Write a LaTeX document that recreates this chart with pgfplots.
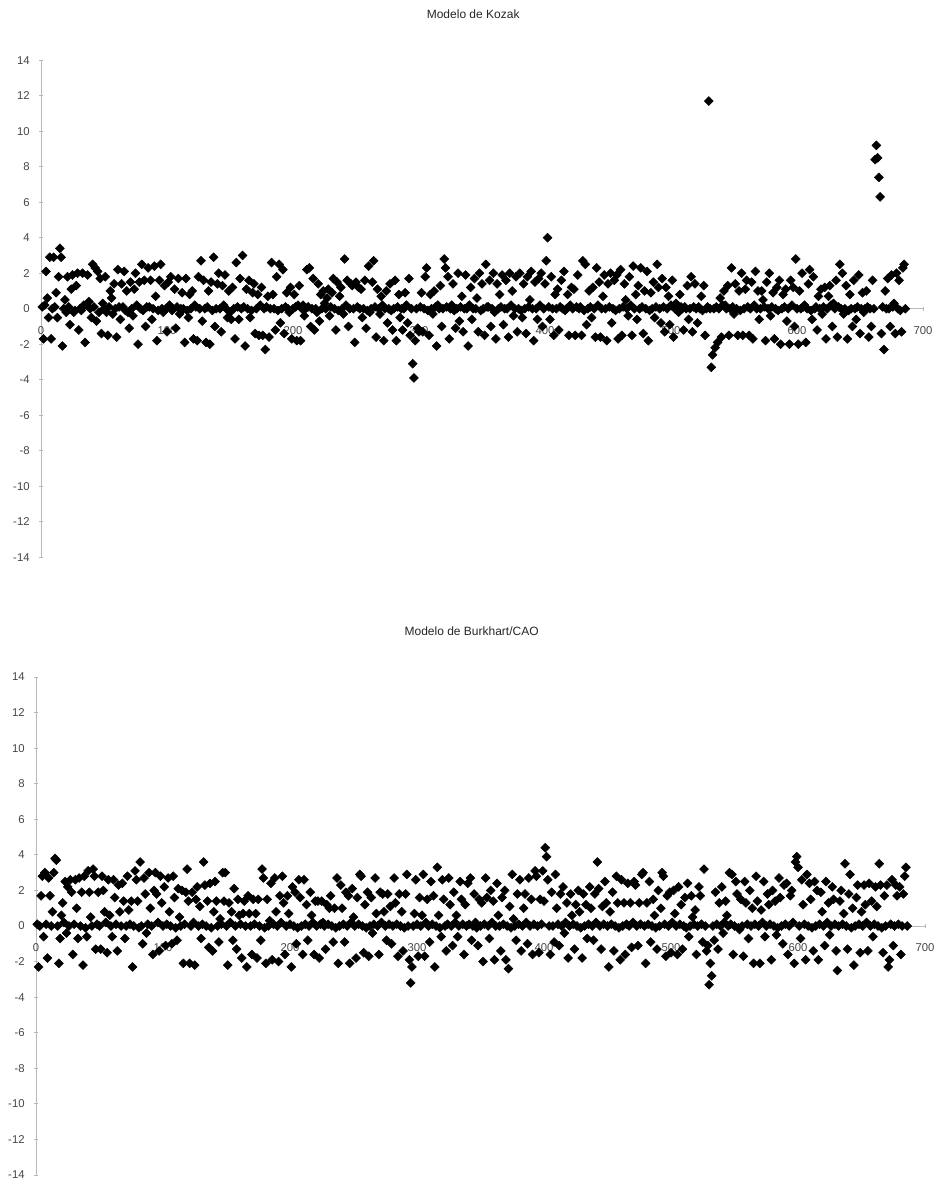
\documentclass[border=0pt]{standalone}
\usepackage{fontspec}
\setmainfont{Liberation Sans}
\usepackage{pgfplots}
\usepackage{pgfplotstable}
\pgfplotsset{compat=1.18}
\definecolor{axgray}{RGB}{185,185,185}
\definecolor{lblgray}{RGB}{70,70,70}

\pgfplotstableread[row sep=\\, header=false]{
0.1\\ -1.7\\ 0.2\\ 2.1\\ 0.6\\ -0.5\\ 2.9\\ -1.7\\ 0.0\\ 2.9\\ 0.1\\ 0.9\\ -0.5\\ 1.8\\
3.4\\ 2.9\\ -2.1\\ 0.0\\ 0.5\\ -0.2\\ 1.8\\ 0.1\\ -0.9\\ 1.1\\ 1.9\\ -0.2\\ -0.1\\ 1.3\\
2.0\\ -1.2\\ 0.0\\ -0.1\\ 2.0\\ 0.2\\ -1.9\\ 0.2\\ 1.9\\ 0.4\\ 0.0\\ -0.5\\ 2.5\\ 0.1\\
2.3\\ -0.7\\ 2.1\\ -0.2\\ 1.7\\ -1.4\\ 0.3\\ 0.0\\ 1.8\\ -0.2\\ -1.5\\ 0.1\\ 1.0\\ 0.6\\
-0.3\\ 1.4\\ 0.0\\ -1.6\\ 2.2\\ 0.1\\ -0.6\\ 1.4\\ 0.1\\ 2.1\\ -0.1\\ 1.0\\ -0.2\\ -1.1\\
1.5\\ 0.0\\ -0.4\\ 1.1\\ 2.0\\ 0.2\\ -2.0\\ 1.5\\ 0.0\\ 2.5\\ -0.1\\ 1.6\\ -1.0\\ 0.1\\
2.3\\ 0.1\\ 1.6\\ -0.6\\ 0.0\\ 2.4\\ 0.7\\ -1.8\\ -0.1\\ 1.6\\ 2.5\\ 0.0\\ -0.2\\ 1.3\\
0.0\\ -1.3\\ 1.5\\ 0.2\\ 1.8\\ -0.1\\ 0.0\\ 1.1\\ -1.1\\ 0.1\\ 1.7\\ -0.3\\ 0.0\\ 0.9\\
0.0\\ -1.9\\ 1.7\\ -0.1\\ -0.5\\ 0.8\\ 0.0\\ 1.0\\ -1.7\\ 0.2\\ 0.1\\ -1.8\\ 1.8\\ 0.0\\
2.7\\ -0.7\\ 1.6\\ 0.0\\ -1.9\\ 0.1\\ 1.0\\ -2.0\\ 1.5\\ -0.1\\ 2.9\\ -1.0\\ 0.0\\ 1.4\\
2.0\\ 0.0\\ -1.3\\ 1.3\\ 0.2\\ 1.9\\ 0.0\\ -0.5\\ 1.0\\ -0.2\\ -0.6\\ 1.2\\ 0.0\\ -1.7\\
2.6\\ 0.1\\ -0.6\\ 1.7\\ 0.0\\ 3.0\\ 0.1\\ -2.1\\ 1.1\\ 0.0\\ 1.6\\ -0.5\\ -0.1\\ 0.9\\
1.4\\ -1.4\\ 0.0\\ 0.8\\ -1.5\\ 0.2\\ 1.2\\ -1.5\\ 0.0\\ -2.3\\ 0.1\\ 0.7\\ -1.6\\ 0.0\\
2.6\\ 0.8\\ 0.0\\ -1.2\\ 1.8\\ -0.1\\ 2.5\\ -0.8\\ 0.0\\ 2.2\\ -1.4\\ 0.1\\ 0.9\\ 0.0\\
-0.2\\ 1.2\\ -1.7\\ 0.0\\ 0.8\\ 0.1\\ -1.8\\ 0.2\\ 1.3\\ -1.8\\ 0.0\\ 0.2\\ -0.4\\ 0.0\\
2.2\\ 0.1\\ 2.3\\ -1.0\\ 0.0\\ 1.7\\ -1.2\\ 0.0\\ -0.2\\ 1.4\\ -0.7\\ 0.8\\ 0.0\\ 1.0\\
0.3\\ 0.0\\ 0.6\\ 1.1\\ -0.4\\ 0.1\\ 0.9\\ 1.7\\ 0.0\\ -1.2\\ 1.5\\ -0.1\\ 0.7\\ 1.2\\
0.0\\ -0.3\\ 2.8\\ 0.2\\ 1.6\\ -1.0\\ 0.0\\ 1.4\\ 1.3\\ 0.0\\ -1.9\\ 1.5\\ 0.1\\ 1.2\\
0.0\\ 1.1\\ -0.5\\ 0.0\\ 1.6\\ -1.1\\ -0.1\\ 2.4\\ -0.2\\ 0.0\\ 1.5\\ 2.7\\ 0.1\\ -1.6\\
1.1\\ 0.0\\ -0.3\\ 0.7\\ 0.2\\ -1.8\\ 0.0\\ 1.0\\ -0.8\\ 0.0\\ 1.4\\ -0.1\\ -1.2\\ 0.0\\
1.6\\ -1.8\\ 0.1\\ 0.8\\ -0.5\\ 0.0\\ -1.2\\ 0.0\\ 0.9\\ 0.2\\ -0.8\\ 1.7\\ -1.5\\ 0.0\\
-3.1\\ -3.9\\ -1.8\\ 0.0\\ -1.1\\ -1.3\\ 0.1\\ 0.9\\ -1.3\\ 0.0\\ 1.8\\ 2.3\\ -0.1\\ -1.5\\
0.8\\ 0.0\\ -0.3\\ 1.0\\ 0.1\\ -2.1\\ 0.2\\ 0.0\\ 1.3\\ -1.0\\ 0.0\\ 2.8\\ 2.3\\ 0.1\\
1.8\\ -1.7\\ 0.0\\ 0.2\\ 1.4\\ -0.1\\ -1.1\\ 0.0\\ 2.0\\ -0.7\\ 0.1\\ 0.7\\ -1.3\\ 0.0\\
1.9\\ 0.0\\ -2.1\\ 0.2\\ 1.2\\ -0.6\\ 0.0\\ 1.7\\ 0.0\\ 0.6\\ -1.3\\ 2.0\\ -0.1\\ 1.4\\
0.0\\ -1.5\\ 2.5\\ 0.1\\ 0.1\\ 1.6\\ -1.0\\ 0.0\\ 2.0\\ -0.2\\ -1.7\\ 1.4\\ 0.0\\ 0.8\\
0.1\\ 1.9\\ -0.9\\ 0.0\\ 1.6\\ 0.0\\ -1.6\\ 2.0\\ 0.2\\ 1.0\\ -0.4\\ 0.0\\ 1.8\\ -1.3\\
0.0\\ 2.0\\ -0.1\\ -0.5\\ 1.4\\ 0.0\\ -1.4\\ 1.8\\ 0.1\\ 0.5\\ 2.1\\ 0.0\\ -1.8\\ 1.5\\
0.0\\ -0.6\\ 1.7\\ 0.2\\ 2.0\\ -1.0\\ 0.0\\ 1.4\\ 2.7\\ 4.0\\ 0.1\\ -0.6\\ 1.8\\ 0.0\\
-1.5\\ 0.8\\ 0.0\\ 1.1\\ -1.2\\ 0.1\\ 1.6\\ 0.0\\ 2.1\\ -0.1\\ 0.0\\ 0.8\\ -1.5\\ 0.2\\
1.2\\ 0.0\\ 1.1\\ -1.5\\ 0.1\\ 1.9\\ 0.0\\ 0.1\\ -1.5\\ 2.7\\ -0.1\\ 2.5\\ -0.9\\ 0.0\\
1.0\\ 0.1\\ -0.5\\ 1.2\\ 0.0\\ -1.6\\ 2.3\\ 0.2\\ 1.5\\ -1.6\\ 0.0\\ 0.7\\ 1.9\\ 0.0\\
-1.8\\ 1.4\\ 0.1\\ 2.0\\ -0.8\\ 0.0\\ 1.6\\ -0.1\\ 1.9\\ -1.7\\ 0.0\\ 2.2\\ -1.5\\ 0.1\\
1.4\\ 0.5\\ 0.0\\ -0.4\\ 1.8\\ 0.2\\ -1.5\\ 2.4\\ 0.0\\ 0.8\\ -0.6\\ 1.3\\ 0.0\\ 2.3\\
0.1\\ -1.4\\ 1.0\\ 0.0\\ 2.1\\ -1.8\\ -0.1\\ 0.9\\ 0.0\\ 1.5\\ -0.5\\ 0.1\\ 2.5\\ 1.2\\
0.0\\ -0.8\\ 1.7\\ 0.1\\ -1.3\\ 1.2\\ 0.0\\ 0.7\\ -0.9\\ 0.2\\ 1.6\\ -1.6\\ 0.0\\ 0.3\\
0.0\\ -0.2\\ 0.8\\ 0.1\\ 0.0\\ -1.2\\ 0.1\\ 0.0\\ 1.3\\ -0.6\\ 0.0\\ 1.8\\ -1.3\\ 0.1\\
1.4\\ 0.0\\ -0.8\\ 0.1\\ 0.0\\ 0.7\\ -0.1\\ 1.3\\ -1.5\\ 0.0\\ 0.1\\ 11.7\\ 0.0\\ -3.3\\
-2.6\\ 0.0\\ -2.2\\ 0.1\\ -1.9\\ 0.0\\ 0.6\\ -1.6\\ 0.2\\ 1.0\\ 0.2\\ 0.0\\ 1.3\\ -1.5\\
0.0\\ 2.3\\ 0.1\\ -0.3\\ 1.4\\ 0.0\\ -1.5\\ 1.0\\ -0.1\\ 2.0\\ -1.5\\ 0.0\\ 1.1\\ 1.6\\
0.1\\ -1.5\\ 0.0\\ 1.5\\ -1.7\\ 0.2\\ 2.1\\ 0.0\\ 1.0\\ -0.6\\ 0.0\\ 1.0\\ 0.5\\ 0.1\\
-1.8\\ 1.5\\ 0.0\\ 2.0\\ -0.4\\ 0.1\\ 0.9\\ -1.7\\ 0.0\\ 1.2\\ -0.1\\ 1.6\\ -2.0\\ 0.0\\
0.8\\ 0.1\\ 1.1\\ -0.7\\ 0.0\\ -2.0\\ 1.6\\ 0.2\\ 1.2\\ -1.0\\ 2.8\\ 0.0\\ -2.0\\ 1.0\\
0.0\\ 2.0\\ 0.1\\ 0.2\\ -1.9\\ 0.0\\ 1.4\\ 2.2\\ -0.1\\ -0.6\\ 1.8\\ 0.0\\ 0.1\\ -1.2\\
0.7\\ 0.0\\ 1.1\\ -0.3\\ 0.1\\ 1.2\\ -1.7\\ 0.0\\ 0.7\\ 1.3\\ 0.2\\ -1.0\\ 0.3\\ 0.0\\
1.6\\ -1.6\\ 0.1\\ 2.5\\ 0.0\\ 2.0\\ -0.3\\ 0.0\\ 1.3\\ -1.7\\ -0.1\\ 0.8\\ 0.0\\ -1.0\\
1.6\\ 0.0\\ -0.6\\ 0.1\\ 1.9\\ -1.4\\ 0.0\\ 0.9\\ -0.2\\ 0.0\\ 1.0\\ 0.1\\ -1.6\\ 0.0\\
-1.0\\ 1.6\\ 0.0\\ 8.4\\ 9.2\\ 8.5\\ 7.4\\ 6.3\\ -1.4\\ 0.1\\ -2.3\\ 1.0\\ 0.0\\ 1.7\\
0.0\\ -1.0\\ 1.9\\ 0.1\\ 0.3\\ -1.4\\ 2.0\\ 0.0\\ 1.6\\ -0.1\\ -1.3\\ 2.3\\ 2.5\\ 0.0\\
}\kozak

\pgfplotstableread[row sep=\\, header=false]{
0.1\\ -2.3\\ 0.0\\ 1.7\\ 2.8\\ -0.6\\ 3.0\\ 0.1\\ -1.8\\ 2.7\\ 1.7\\ 0.0\\ 0.8\\ 3.0\\
3.8\\ 3.7\\ 0.0\\ -2.1\\ -0.7\\ 0.6\\ 1.3\\ 0.2\\ 2.5\\ -0.4\\ 2.2\\ 0.0\\ 2.6\\ 1.9\\
-1.6\\ 0.1\\ 2.6\\ 1.0\\ -0.7\\ 2.7\\ 0.0\\ 1.9\\ -2.2\\ 2.8\\ -0.1\\ -0.6\\ 3.1\\ 1.9\\
0.5\\ 0.0\\ 3.2\\ 2.8\\ -1.3\\ 0.1\\ 1.9\\ 0.0\\ -1.3\\ 2.8\\ 2.0\\ 0.8\\ 0.2\\ -1.5\\
2.6\\ 0.6\\ 0.0\\ -0.6\\ 2.6\\ 1.6\\ 0.1\\ -1.4\\ 2.3\\ 0.8\\ 0.0\\ 2.4\\ 1.4\\ -0.7\\
0.0\\ 2.8\\ 0.9\\ 0.1\\ 1.4\\ -2.3\\ 0.0\\ 3.1\\ 2.6\\ 1.4\\ -0.1\\ 3.6\\ 0.0\\ -1.0\\
2.7\\ 1.8\\ -0.4\\ 0.1\\ 3.0\\ 1.0\\ 0.0\\ -1.6\\ 2.0\\ 3.0\\ 1.8\\ 0.2\\ -1.4\\ 2.8\\
1.3\\ 0.0\\ 2.2\\ -1.1\\ 0.1\\ 2.7\\ 0.8\\ 0.0\\ -1.0\\ 2.8\\ 1.6\\ -0.1\\ -0.8\\ 2.1\\
0.5\\ 0.0\\ 2.0\\ -2.1\\ 0.1\\ 1.9\\ 3.2\\ 1.4\\ -2.1\\ 0.0\\ 1.9\\ 0.2\\ -2.2\\ 1.5\\
2.2\\ 0.0\\ 1.1\\ -0.7\\ 0.1\\ 3.6\\ 2.3\\ 0.0\\ 1.4\\ -1.2\\ 2.4\\ -0.1\\ -1.4\\ 0.8\\
2.5\\ 1.4\\ 0.0\\ -0.9\\ 0.4\\ 0.1\\ 3.0\\ 1.4\\ 3.0\\ 0.0\\ -2.2\\ 1.3\\ 0.2\\ 0.8\\
-0.8\\ 2.1\\ 0.0\\ -1.3\\ 1.5\\ 0.6\\ 0.1\\ -1.8\\ 0.7\\ 1.4\\ 0.0\\ -2.3\\ 1.7\\ 0.7\\
0.0\\ -1.6\\ 1.5\\ 0.1\\ 0.7\\ -1.8\\ 1.5\\ 0.0\\ -0.8\\ 3.2\\ 2.7\\ -0.1\\ -2.1\\ 1.5\\
0.0\\ 0.3\\ 2.4\\ -1.9\\ 0.1\\ 2.7\\ 0.8\\ 0.0\\ -2.0\\ 1.7\\ 0.2\\ 2.8\\ 1.3\\ -1.6\\
0.0\\ 1.7\\ 0.7\\ 0.1\\ -2.3\\ 2.2\\ 0.0\\ 1.9\\ -1.0\\ -0.1\\ 2.6\\ 1.6\\ 0.0\\ -1.6\\
2.6\\ 0.1\\ 1.2\\ -0.8\\ 0.0\\ 1.9\\ 0.6\\ 0.2\\ -1.6\\ 1.4\\ 0.0\\ 1.4\\ -1.8\\ 0.1\\
1.4\\ 0.2\\ 0.0\\ -1.3\\ 1.2\\ 0.1\\ 1.0\\ 1.7\\ 0.0\\ -0.9\\ 1.0\\ -0.1\\ 2.7\\ -2.1\\
0.0\\ 2.3\\ 1.0\\ 0.1\\ -0.9\\ 1.9\\ 0.0\\ 1.7\\ -2.1\\ 0.2\\ 2.1\\ 0.5\\ 0.0\\ -1.8\\
1.6\\ 0.1\\ 2.9\\ 2.8\\ 0.0\\ -1.5\\ 1.2\\ -0.1\\ 1.9\\ -1.7\\ 0.0\\ 1.6\\ -0.4\\ 0.1\\
2.7\\ 0.7\\ 0.0\\ -1.6\\ 1.9\\ 0.2\\ 1.8\\ 0.8\\ 0.0\\ -0.8\\ 1.8\\ 0.1\\ 1.1\\ -1.0\\
0.0\\ 2.7\\ 1.3\\ 0.1\\ -1.7\\ 1.8\\ 0.0\\ 0.8\\ -1.4\\ -0.1\\ 1.8\\ 2.9\\ 0.0\\ -1.9\\
-3.2\\ -2.3\\ 0.0\\ 0.7\\ 2.6\\ 0.1\\ -1.7\\ 1.6\\ 0.0\\ 0.6\\ 2.9\\ -1.7\\ 0.2\\ 1.5\\
0.0\\ -0.9\\ 2.5\\ 0.1\\ 1.7\\ -2.3\\ 0.0\\ 3.3\\ 0.6\\ -0.1\\ -0.6\\ 2.6\\ 1.5\\ 0.0\\
-1.4\\ 0.1\\ 2.7\\ 1.2\\ 0.0\\ -1.1\\ 1.9\\ 0.2\\ 0.6\\ -0.6\\ 0.0\\ 2.5\\ 1.5\\ 0.1\\
-1.6\\ 1.2\\ 0.0\\ 2.4\\ 0.1\\ 2.7\\ -0.8\\ 0.0\\ 1.8\\ 0.2\\ -0.1\\ -1.1\\ 1.5\\ 0.0\\
1.3\\ -2.0\\ 0.1\\ 2.7\\ 1.6\\ 0.0\\ -0.7\\ 2.0\\ 0.2\\ 1.4\\ -1.9\\ 0.0\\ 2.4\\ 0.6\\
0.0\\ -1.4\\ 1.6\\ 0.1\\ 2.0\\ -1.9\\ 0.0\\ -2.4\\ 1.1\\ -0.1\\ 2.9\\ 0.4\\ 0.0\\ -0.8\\
1.8\\ 0.1\\ 2.6\\ -1.4\\ 0.0\\ 1.0\\ 1.8\\ 0.2\\ -1.0\\ 2.7\\ 0.0\\ 1.5\\ -1.6\\ 0.1\\
3.1\\ 2.8\\ 0.0\\ -1.5\\ 1.5\\ 0.1\\ 3.1\\ 1.4\\ 4.4\\ 3.9\\ 2.6\\ 0.0\\ -1.6\\ 1.9\\
0.0\\ -0.9\\ 2.9\\ 1.0\\ 0.1\\ -1.1\\ 1.8\\ 0.0\\ 2.2\\ -0.4\\ 0.2\\ 1.3\\ -1.8\\ 0.0\\
1.8\\ 0.6\\ 0.1\\ -1.3\\ 1.2\\ 0.0\\ 2.0\\ 0.8\\ -0.1\\ -1.8\\ 1.8\\ 0.0\\ 1.2\\ -0.7\\
0.1\\ 2.2\\ 1.0\\ 0.0\\ -0.8\\ 1.8\\ 0.2\\ 3.6\\ 2.1\\ 0.0\\ -1.3\\ 1.1\\ 0.1\\ 2.5\\
1.3\\ 0.0\\ -2.3\\ 0.8\\ 0.1\\ 1.9\\ -1.4\\ 0.0\\ 2.8\\ 1.3\\ -0.1\\ -1.9\\ 2.6\\ 0.0\\
1.3\\ -1.6\\ 0.1\\ 2.4\\ 0.0\\ 1.3\\ -1.2\\ 0.2\\ 2.5\\ 2.3\\ 0.0\\ -1.1\\ 1.3\\ 0.1\\
2.9\\ 3.0\\ 0.0\\ -2.1\\ 1.3\\ 0.1\\ 2.5\\ -0.9\\ 0.0\\ 1.5\\ 0.6\\ -0.1\\ -1.3\\ 2.0\\
0.0\\ 1.0\\ 3.0\\ 2.8\\ 0.1\\ -1.7\\ 1.7\\ 0.0\\ 1.9\\ -1.5\\ 0.2\\ 2.0\\ 0.7\\ 0.0\\
-1.6\\ 2.2\\ 0.1\\ 1.2\\ -1.3\\ 0.0\\ 1.6\\ -0.1\\ 2.4\\ -0.6\\ 0.0\\ 1.7\\ 0.5\\ 0.1\\
0.9\\ -1.6\\ 0.0\\ 2.2\\ 1.7\\ 0.1\\ -0.9\\ 3.2\\ 0.0\\ -1.4\\ -1.1\\ -3.3\\ -2.1\\ -2.8\\
0.0\\ -0.8\\ 1.9\\ 0.1\\ -1.3\\ 1.3\\ 0.0\\ 2.2\\ -0.4\\ 0.2\\ 1.4\\ 0.6\\ 0.0\\ 3.0\\
0.1\\ 2.9\\ -1.6\\ 0.0\\ 2.5\\ 1.8\\ -0.1\\ -0.2\\ 1.5\\ 0.0\\ -1.7\\ 2.5\\ 1.3\\ 0.1\\
-0.7\\ 2.0\\ 0.0\\ 1.0\\ -2.1\\ 0.1\\ 2.8\\ 1.4\\ 0.0\\ -2.1\\ 0.9\\ 0.2\\ 2.5\\ -0.6\\
0.0\\ 1.8\\ 1.2\\ 0.1\\ -1.9\\ 2.0\\ 0.0\\ 1.4\\ -0.5\\ -0.1\\ 2.7\\ 1.6\\ 0.0\\ -1.0\\
2.3\\ 0.1\\ 2.4\\ -1.6\\ 0.0\\ 1.7\\ 2.0\\ 0.2\\ -2.1\\ 3.6\\ 3.9\\ 3.3\\ 0.0\\ -0.7\\
2.6\\ 1.2\\ 0.1\\ -1.9\\ 2.9\\ 0.0\\ 2.4\\ 1.5\\ -0.1\\ -1.4\\ 2.5\\ 0.0\\ 2.0\\ -1.9\\
0.1\\ 1.9\\ 0.8\\ 0.0\\ -1.1\\ 2.5\\ 0.2\\ 1.3\\ -0.5\\ 0.0\\ 2.2\\ 1.5\\ 0.1\\ -1.4\\
-2.5\\ 0.0\\ 1.4\\ 2.0\\ 0.1\\ 0.7\\ 3.5\\ 0.0\\ -1.3\\ 1.8\\ 2.9\\ -0.1\\ 1.0\\ -2.2\\
0.0\\ 1.6\\ 2.3\\ 0.1\\ -1.5\\ 0.8\\ 0.0\\ 2.3\\ 1.2\\ 0.2\\ -1.4\\ 2.4\\ 0.0\\ 1.4\\
-0.6\\ 0.1\\ 2.2\\ 1.1\\ 0.0\\ 3.5\\ 2.3\\ -0.1\\ -1.5\\ 1.7\\ 0.0\\ 2.3\\ -2.3\\ -1.9\\
0.1\\ 2.6\\ -1.1\\ 0.0\\ 2.3\\ 1.7\\ 0.1\\ 2.2\\ -1.6\\ 0.0\\ 1.8\\ 2.8\\ 3.3\\ 0.0\\
}\burkhart

\pgfplotsset{resstyle/.style={
  scale only axis,
  xmin=0, xmax=700, ymin=-14, ymax=14,
  enlargelimits=false,
  axis x line*=middle, axis y line*=left,
  hide obscured x ticks=false,
  xtick={0,100,...,700}, ytick={-14,-12,...,14},
  minor tick num=0,
  tick align=center, major tick length=3pt,
  every tick/.style={axgray, line width=0.6pt},
  axis line style={axgray, line width=0.6pt},
  tick label style={font=\fontsize{8.5}{10}\selectfont, text=lblgray},
  /pgf/number format/assume math mode=true,
  xticklabel style={yshift=-8.5pt},
  yticklabel style={xshift=-3.5pt},
  clip=false,
  every axis title/.style={at={(0.49,1)}, anchor=center, yshift=34.5pt,
    font=\fontsize{9}{11}\selectfont, text=black!85},
},
resmarks/.style={only marks, mark=square*, mark size=2.35pt,
  mark options={rotate=45, fill=black, draw=black}}}

\begin{document}
\begin{tikzpicture}
\path[use as bounding box] (0,0) rectangle (705pt,-888pt);
\begin{axis}[resstyle, at={(30.75pt,-417.9pt)}, anchor=south west,
  width=661.5pt, height=372.75pt, title={Modelo de Kozak}]
\addplot[resmarks] table[x expr=\coordindex+1, y index=0]{\kozak};
\end{axis}
\begin{axis}[resstyle, at={(27pt,-881.25pt)}, anchor=south west,
  width=666.75pt, height=373.5pt, title={Modelo de Burkhart/CAO}]
\addplot[resmarks] table[x expr=\coordindex+1, y index=0]{\burkhart};
\end{axis}
\end{tikzpicture}
\end{document}
